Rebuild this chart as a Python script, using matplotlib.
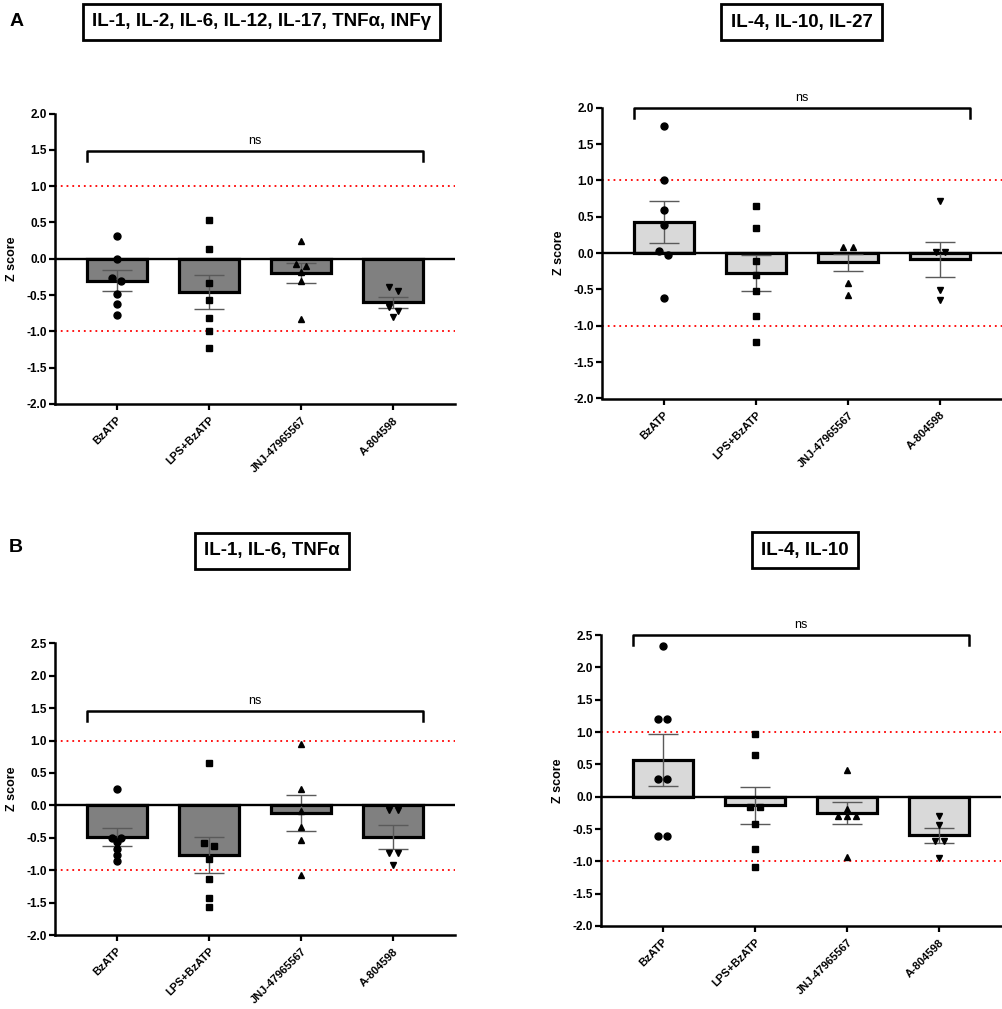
import numpy as np
import matplotlib
matplotlib.use("Agg")
import matplotlib.pyplot as plt

plt.rcParams['font.family'] = ['Liberation Sans', 'DejaVu Sans']

groups = ['BzATP', 'LPS+BzATP', 'JNJ-47965567', 'A-804598']
markers = ['o', 's', '^', 'v']

# A, left: IL-1, IL-2, IL-6, IL-12, IL-17, TNFa, INFg
bz_a1 = [0.31, 0.0, -0.27, -0.31, -0.48, -0.62, -0.78]
lps_a1 = [0.53, 0.13, -0.33, -0.57, -0.82, -0.99, -1.23]
jnj_a1 = [0.24, -0.07, -0.10, -0.18, -0.31, -0.83]
a80_a1 = [-0.39, -0.44, -0.67, -0.72, -0.80]
mean_a1 = [-0.30, -0.46, -0.20, -0.60]
sem_a1 = [0.14, 0.235, 0.14, 0.08]

# A, right: IL-4, IL-10, IL-27
bz_a2 = [1.75, 1.0, 0.59, 0.385, 0.03, -0.02, -0.615]
lps_a2 = [0.65, 0.34, -0.11, -0.30, -0.52, -0.87, -1.22]
jnj_a2 = [0.08, 0.085, -0.41, -0.57]
a80_a2 = [0.72, 0.01, 0.01, -0.505, -0.645]
mean_a2 = [0.43, -0.275, -0.125, -0.085]
sem_a2 = [0.29, 0.25, 0.117, 0.24]

# B, left: IL-1, IL-6, TNFa
bz_b1 = [0.26, -0.50, -0.50, -0.57, -0.67, -0.77, -0.86]
lps_b1 = [0.65, -0.585, -0.625, -0.83, -1.13, -1.43, -1.575]
jnj_b1 = [0.95, 0.25, -0.08, -0.34, -0.53, -1.075]
a80_b1 = [-0.07, -0.07, -0.73, -0.73, -0.915]
mean_b1 = [-0.49, -0.765, -0.12, -0.49]
sem_b1 = [0.14, 0.28, 0.28, 0.18]

# B, right: IL-4, IL-10
bz_b2 = [2.33, 1.20, 1.20, 0.27, 0.27, -0.615, -0.615]
lps_b2 = [0.97, 0.65, -0.165, -0.165, -0.42, -0.815, -1.095]
jnj_b2 = [0.41, -0.19, -0.305, -0.305, -0.305, -0.94]
a80_b2 = [-0.295, -0.435, -0.685, -0.685, -0.955]
mean_b2 = [0.565, -0.135, -0.255, -0.60]
sem_b2 = [0.40, 0.28, 0.175, 0.115]

titles = ['IL-1, IL-2, IL-6, IL-12, IL-17, TNF\u03b1, INF\u03b3', 'IL-4, IL-10, IL-27',
          'IL-1, IL-6, TNF\u03b1', 'IL-4, IL-10']
bracket_y = [1.486, 2.0, 1.46, 2.5]

W, H = 1003, 1009
fig = plt.figure(figsize=(W / 100, H / 100), dpi=100)


def px_box(left, top, right, bottom):
    return [left / W, 1 - bottom / H, (right - left) / W, (bottom - top) / H]


def swarm_offsets(vals, ppu, thresh_px=4.2, step=0.10):
    # group points whose y values lie within a marker height, spread them in a row
    order = np.argsort(vals)[::-1]
    offs = np.zeros(len(vals))
    grp = []
    start = None
    for i in order:
        if start is None or (start - vals[i]) * ppu > thresh_px:
            if grp:
                for k, j in enumerate(grp):
                    offs[j] = (k - (len(grp) - 1) / 2) * step
            grp = [i]
            start = vals[i]
        else:
            grp.append(i)
    for k, j in enumerate(grp):
        offs[j] = (k - (len(grp) - 1) / 2) * step
    return offs


def draw_panel(box, ylim, points, means, sems, color, title, title_xy, by):
    ax = fig.add_axes(px_box(*box))
    ax.set_xlim(-0.67, 3.67)
    ax.set_ylim(*ylim)
    ppu = (box[3] - box[1]) / (ylim[1] - ylim[0])
    x = np.arange(len(groups))

    ax.bar(x, means, width=0.65, color=color, edgecolor='black', linewidth=2.3, zorder=2)
    ax.errorbar(x, means, yerr=sems, fmt='none', ecolor='#5a5a5a', elinewidth=1.0,
                capsize=11, capthick=1.0, zorder=3)
    for i, vals in enumerate(points):
        vals = np.array(vals)
        offs = swarm_offsets(vals, ppu)
        ms = 5.0 if markers[i] == 'o' else 4.5
        ax.plot(x[i] + offs, vals, linestyle='none', marker=markers[i], color='black',
                markersize=ms, zorder=4)

    ax.axhline(0, color='black', lw=1.7, zorder=3)
    for v in (1, -1):
        ax.axhline(v, color='red', lw=1.3, ls=(0, (1, 2.2)), zorder=1)

    # significance bracket
    drop = 10 / ppu
    xl, xr = x[0] - 0.325, x[-1] + 0.325
    ax.plot([xl, xl, xr, xr], [by - drop, by, by, by - drop], color='black', lw=1.8,
            clip_on=False, zorder=5)
    ax.annotate('ns', (x.mean(), by), xytext=(0, 3), textcoords='offset points',
                ha='center', va='bottom', fontsize=9, annotation_clip=False)

    ax.set_yticks(np.arange(ylim[0], ylim[1] + 0.01, 0.5))
    ax.yaxis.set_major_formatter(matplotlib.ticker.FormatStrFormatter('%.1f'))
    ax.set_xticks(x)
    ax.set_xticklabels(groups, rotation=45, ha='right', rotation_mode='anchor',
                       fontsize=8, fontweight='bold')
    for lab in ax.get_yticklabels():
        lab.set_fontweight('bold')
        lab.set_fontsize(8.5)
    ax.tick_params(direction='out', length=4, width=1.6, pad=2)
    ax.tick_params(axis='x', pad=4)
    for s in ('top', 'right'):
        ax.spines[s].set_visible(False)
    for s in ('left', 'bottom'):
        ax.spines[s].set_linewidth(1.8)

    fig.text((box[0] - 43) / W, 1 - (box[1] + box[3]) / 2 / H, 'Z score', rotation=90,
             ha='center', va='center', fontsize=9, fontweight='bold')
    fig.text(title_xy[0] / W, 1 - title_xy[1] / H, title, ha='center', va='center',
             fontsize=13.5, fontweight='bold',
             bbox=dict(boxstyle='square,pad=0.5', facecolor='white', edgecolor='black',
                       linewidth=2.0))
    return ax


draw_panel((55, 113.5, 455, 404), (-2.0, 2.0), [bz_a1, lps_a1, jnj_a1, a80_a1],
           mean_a1, sem_a1, '#808080', titles[0], (261.5, 22), bracket_y[0])
draw_panel((602, 107.7, 1002, 398.5), (-2.0, 2.0), [bz_a2, lps_a2, jnj_a2, a80_a2],
           mean_a2, sem_a2, '#d9d9d9', titles[1], (801.7, 22), bracket_y[1])
draw_panel((55, 643.3, 455, 935), (-2.0, 2.5), [bz_b1, lps_b1, jnj_b1, a80_b1],
           mean_b1, sem_b1, '#808080', titles[2], (272, 551), bracket_y[2])
draw_panel((601, 635, 1001, 926), (-2.0, 2.5), [bz_b2, lps_b2, jnj_b2, a80_b2],
           mean_b2, sem_b2, '#d9d9d9', titles[3], (804.7, 550), bracket_y[3])

fig.text(10 / W, 1 - 22 / H, 'A', ha='left', va='center', fontsize=14, fontweight='bold')
fig.text(9 / W, 1 - 548 / H, 'B', ha='left', va='center', fontsize=14, fontweight='bold')

fig.savefig('out.png', dpi=100)
